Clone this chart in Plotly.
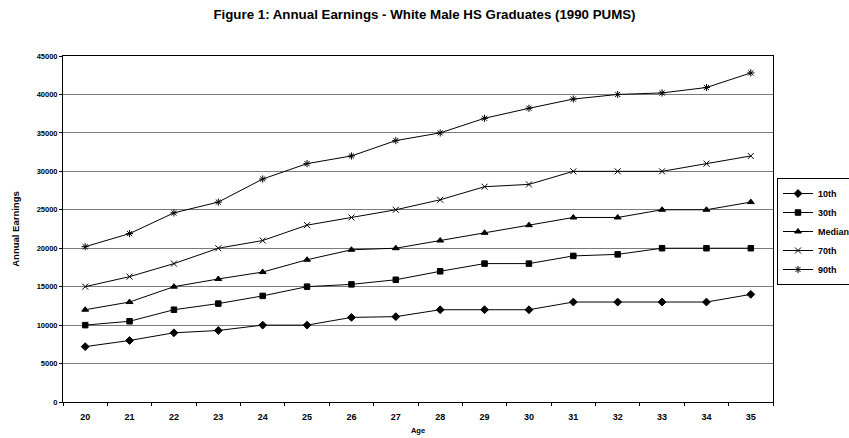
import plotly.graph_objects as go

ages = [str(a) for a in range(20, 36)]
p10 = [7200, 8000, 9000, 9300, 10000, 10000, 11000, 11100, 12000, 12000, 12000, 13000, 13000, 13000, 13000, 14000]
p30 = [10000, 10500, 12000, 12800, 13800, 15000, 15300, 15900, 17000, 18000, 18000, 19000, 19200, 20000, 20000, 20000]
median = [12000, 13000, 15000, 16000, 16900, 18500, 19800, 20000, 21000, 22000, 23000, 24000, 24000, 25000, 25000, 26000]
p70 = [15000, 16300, 18000, 20000, 21000, 23000, 24000, 25000, 26300, 28000, 28300, 30000, 30000, 30000, 31000, 32000]
p90 = [20200, 21900, 24600, 26000, 29000, 31000, 32000, 34000, 35000, 36900, 38200, 39400, 40000, 40200, 40900, 42800]

series = [
    ("10th", p10, "diamond", 6),
    ("30th", p30, "square", 5.5),
    ("Median", median, "triangle-up", 6),
    ("70th", p70, "x-thin-open", 6),
    ("90th", p90, "asterisk-open", 6),
]

fig = go.Figure()
for name, vals, sym, sz in series:
    fig.add_trace(go.Scatter(
        x=ages, y=vals, name="<b>" + name + "</b>", mode="lines+markers",
        line=dict(color="black", width=1),
        marker=dict(symbol=sym, size=sz, color="black",
                    line=dict(color="black", width=1)),
    ))

font = "Liberation Sans, Arial, sans-serif"
fig.update_layout(
    width=849, height=438,
    margin=dict(l=63, r=76, t=56, b=36, autoexpand=False),
    paper_bgcolor="white", plot_bgcolor="white",
    font=dict(family=font, size=9, color="black"),
    title=dict(text="<b>Figure 1: Annual Earnings - White Male HS Graduates (1990 PUMS)</b>",
               x=0.5, xanchor="center", y=1 - 14 / 438, yanchor="middle",
               font=dict(size=13.3, family=font, color="black")),
    legend=dict(x=(777 - 63) / 710, xanchor="left", y=(402 - 231.5) / 346, yanchor="middle",
                bordercolor="black", borderwidth=1, bgcolor="white",
                font=dict(size=9, family=font, color="black"),
                itemwidth=30, tracegroupgap=0),
    showlegend=True,
)
fig.update_xaxes(
    type="category", range=[-0.5, 15.5],
    tickson="boundaries", ticks="outside", ticklen=3, tickcolor="black",
    ticklabelstandoff=6,
    showline=True, linecolor="black", linewidth=1, mirror=True,
    showgrid=False, tickprefix="<b>", ticksuffix="</b>",
    tickfont=dict(size=9, family=font),
    title=dict(text="<b>Age</b>", font=dict(size=7.5, family=font), standoff=6),
)
fig.update_yaxes(
    range=[0, 45000], dtick=5000, tickformat="d",
    ticks="outside", ticklen=3, tickcolor="black",
    showline=True, linecolor="black", linewidth=1, mirror=True,
    showgrid=True, gridcolor="#7a7a7a", gridwidth=1,
    zeroline=False, tickprefix="<b>", ticksuffix="</b>",
    tickfont=dict(size=7.5, family=font),
    title=dict(text="<b>Annual Earnings</b>", font=dict(size=9.5, family=font), standoff=15),
)

fig.write_html("out.html")
